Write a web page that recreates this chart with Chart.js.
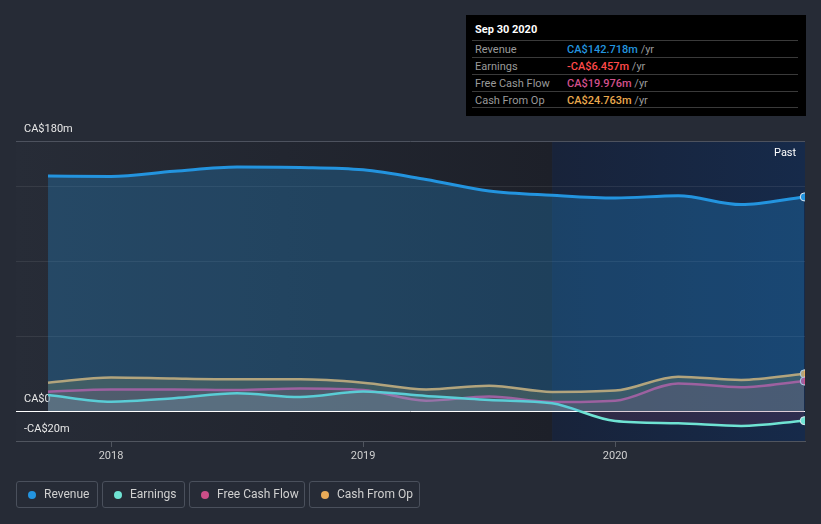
<!DOCTYPE html>
<html>
<head>
<meta charset="utf-8">
<script src="https://cdn.jsdelivr.net/npm/chart.js@4.4.1/dist/chart.umd.min.js"></script>
<style>
  html, body { margin:0; padding:0; background:#262b36; }
  body { width:821px; height:524px; position:relative; overflow:hidden; font-family: Roboto, "Open Sans", sans-serif; }
  #c { position:absolute; left:0; top:0; }
  #tip { position:absolute; left:466px; top:15px; width:340px; height:101px; background:#000; }
  #tip .title { position:absolute; left:9px; top:8px; font-size:11px; font-weight:bold; color:#fff; }
  #tip .row { position:absolute; left:6px; width:326px; height:17px; border-top:1px solid #3a3a3a; font-size:11px; line-height:17px; }
  #tip .row .l { position:absolute; left:3px; color:#9a9a9a; }
  #tip .row .v { position:absolute; left:95px; font-weight:500; }
  #tip .row .v span { color:#9a9a9a; font-weight:normal; }
  #tip .last { position:absolute; left:6px; top:92px; width:326px; border-top:1px solid #3a3a3a; }
  #past { position:absolute; left:774px; top:146px; font-size:11px; color:#fff; }
  .lg { position:absolute; top:481px; height:27px; border:1px solid #4a505c; border-radius:3px; box-sizing:border-box; font-size:12px; color:#d0d0d0; line-height:25px; }
  .lg i { position:absolute; left:11px; top:9px; width:8px; height:8px; border-radius:50%; }
  .lg b { position:absolute; left:27px; font-weight:normal; white-space:nowrap; }
</style>
</head>
<body>
<canvas id="c" width="821" height="524"></canvas>
<div id="past">Past</div>
<div id="tip">
  <div class="title">Sep 30 2020</div>
  <div class="row" style="top:25px"><div class="l">Revenue</div><div class="v" style="color:#2394df">CA$142.718m <span>/yr</span></div></div>
  <div class="row" style="top:42px"><div class="l">Earnings</div><div class="v" style="color:#ff4a4a">-CA$6.457m <span>/yr</span></div></div>
  <div class="row" style="top:59px"><div class="l">Free Cash Flow</div><div class="v" style="color:#d4508c">CA$19.976m <span>/yr</span></div></div>
  <div class="row" style="top:76px"><div class="l">Cash From Op</div><div class="v" style="color:#eaa94e">CA$24.763m <span>/yr</span></div></div>
  <div class="last"></div>
</div>
<div class="lg" style="left:16px;width:82px"><i style="background:#2394df"></i><b>Revenue</b></div>
<div class="lg" style="left:102px;width:83px"><i style="background:#6fe3d3"></i><b>Earnings</b></div>
<div class="lg" style="left:189px;width:116px"><i style="background:#cc4e88"></i><b>Free Cash Flow</b></div>
<div class="lg" style="left:309px;width:111px"><i style="background:#e9ab58"></i><b>Cash From Op</b></div>
<script>
// ---- data (CA$ millions, trailing twelve months, quarterly) ----
const dates = [2017.75, 2018.0, 2018.25, 2018.5, 2018.75, 2019.0, 2019.25, 2019.5, 2019.75, 2020.0, 2020.25, 2020.5, 2020.75];
const revenue = [156.7, 156.4, 159.8, 162.7, 162.4, 160.8, 154.3, 146.7, 143.8, 142.0, 143.5, 137.6, 142.718];
const earnings = [10.7, 6.2, 8.5, 11.8, 9.3, 13.0, 10.0, 7.3, 5.1, -6.7, -8.2, -10.0, -6.457];
const freeCashFlow = [12.9, 14.4, 14.4, 14.0, 15.0, 14.0, 6.9, 9.6, 6.0, 6.9, 18.4, 15.8, 19.976];
const cashFromOp = [18.9, 22.4, 21.6, 21.1, 21.1, 18.9, 14.4, 16.9, 12.7, 13.6, 22.9, 20.7, 24.763];
const yTicks = [-20, 0, 50, 100, 150, 180];
const yLabels = { "180": "CA$180m", "0": "CA$0", "-20": "-CA$20m" };
const xTicks = [2018, 2019, 2020];
const pastStart = 2019.75;

const pts = arr => arr.map((v, i) => ({ x: dates[i], y: v }));
const lastOnly = r => ctx => ctx.dataIndex === dates.length - 1 ? r : 0;

const bgPlugin = {
  id: 'bg',
  beforeDraw(chart) {
    const { ctx, chartArea: a, scales: { x } } = chart;
    ctx.save();
    ctx.fillStyle = '#262b36';
    ctx.fillRect(0, 0, chart.width, chart.height);
    const px = x.getPixelForValue(pastStart);
    let g = ctx.createLinearGradient(a.left, 0, px, 0);
    g.addColorStop(0, '#272c37');
    g.addColorStop(1, '#1d2029');
    ctx.fillStyle = g;
    ctx.fillRect(a.left, a.top, px - a.left, a.bottom - a.top);
    g = ctx.createLinearGradient(px, 0, a.right, 0);
    g.addColorStop(0, '#18233a');
    g.addColorStop(1, '#162a4a');
    ctx.fillStyle = g;
    ctx.fillRect(px, a.top, a.right - px, a.bottom - a.top);
    ctx.restore();
  }
};

const common = {
  tension: 0.4,
  cubicInterpolationMode: 'monotone',
  borderWidth: 2.5,
  pointBorderColor: '#dfe6ee',
  pointBorderWidth: 1,
  pointHoverRadius: 0
};

new Chart(document.getElementById('c'), {
  type: 'line',
  data: {
    datasets: [
      Object.assign({}, common, {
        label: 'Revenue', data: pts(revenue), borderColor: '#2394df', borderWidth: 3,
        backgroundColor: 'rgba(35,148,223,0.28)', fill: 'origin',
        pointRadius: lastOnly(4), pointBackgroundColor: '#2394df'
      }),
      Object.assign({}, common, {
        label: 'Earnings', data: pts(earnings), borderColor: '#6fe3d3',
        fill: { target: 'origin', above: 'rgba(170,200,200,0.2)', below: 'rgba(120,60,100,0.25)' },
        pointRadius: lastOnly(4), pointBackgroundColor: '#6fe3d3'
      }),
      Object.assign({}, common, {
        label: 'Free Cash Flow', data: pts(freeCashFlow), borderColor: '#cc4e88',
        backgroundColor: 'rgba(180,70,110,0.2)', fill: 'origin',
        pointRadius: lastOnly(4), pointBackgroundColor: '#cc4e88'
      }),
      Object.assign({}, common, {
        label: 'Cash From Op', data: pts(cashFromOp), borderColor: '#e9ab58',
        backgroundColor: 'rgba(150,130,60,0.35)', fill: 'origin',
        pointRadius: lastOnly(4), pointBackgroundColor: '#e9ab58'
      })
    ]
  },
  options: {
    responsive: false,
    animation: false,
    events: [],
    layout: { padding: { top: 141, left: 16, right: 16, bottom: 59 } },
    plugins: { legend: { display: false }, tooltip: { enabled: false } },
    scales: {
      x: {
        type: 'linear', min: 2017.623, max: 2020.753,
        afterBuildTicks: s => { s.ticks = xTicks.map(v => ({ value: v })); },
        afterFit: s => { s.height = 24; },
        grid: { drawOnChartArea: false, drawTicks: true, tickLength: 6, color: '#50555f' },
        border: { display: true, color: '#50555f' },
        ticks: { color: '#d0d0d0', font: { family: 'Roboto', size: 11 }, padding: 3, callback: v => String(v) }
      },
      y: {
        min: -20, max: 180,
        afterBuildTicks: s => { s.ticks = yTicks.map(v => ({ value: v })); },
        afterFit: s => { s.width = 0; },
        border: { display: false },
        grid: {
          drawTicks: false,
          color: c => {
            const v = c.tick.value;
            if (v === 0) return '#ffffff';
            if (v === 180) return '#4d525e';
            if (v === -20) return 'rgba(0,0,0,0)';
            return 'rgba(255,255,255,0.08)';
          }
        },
        ticks: {
          mirror: true, padding: 8, labelOffset: -12,
          color: '#e8e8e8', font: { family: 'Roboto', size: 11 },
          callback: v => yLabels[String(v)] || ''
        }
      }
    }
  },
  plugins: [bgPlugin]
});
</script>
</body>
</html>
